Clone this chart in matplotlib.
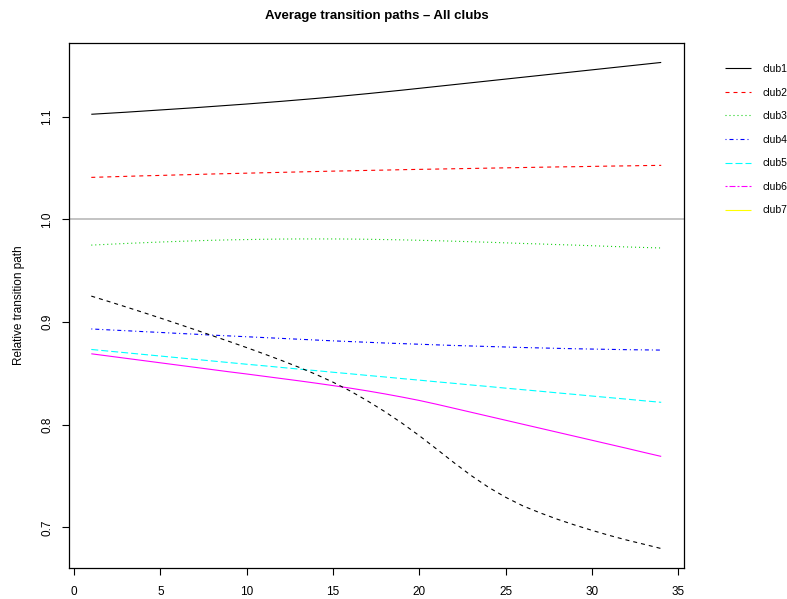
import matplotlib
matplotlib.use("Agg")
import matplotlib.pyplot as plt
from matplotlib.lines import Line2D

plt.rcParams['font.family'] = ['Liberation Sans', 'DejaVu Sans']
plt.rcParams['lines.scale_dashes'] = False

x = list(range(1, 35))

club1 = [1.1025, 1.1035, 1.1045, 1.1056, 1.1067, 1.1078, 1.1089, 1.1101, 1.1113, 1.1125,
         1.1138, 1.1151, 1.1165, 1.1179, 1.1194, 1.1210, 1.1226, 1.1243, 1.1260, 1.1278,
         1.1296, 1.1314, 1.1332, 1.1350, 1.1368, 1.1386, 1.1404, 1.1422, 1.1440, 1.1458,
         1.1476, 1.1494, 1.1512, 1.1530]
club2 = [1.0410, 1.0415, 1.0420, 1.0425, 1.0429, 1.0434, 1.0438, 1.0443, 1.0447, 1.0451,
         1.0455, 1.0459, 1.0463, 1.0467, 1.0471, 1.0474, 1.0478, 1.0481, 1.0485, 1.0488,
         1.0491, 1.0494, 1.0497, 1.0500, 1.0503, 1.0506, 1.0509, 1.0512, 1.0514, 1.0517,
         1.0520, 1.0522, 1.0525, 1.0527]
club3 = [0.9750, 0.9758, 0.9766, 0.9773, 0.9780, 0.9786, 0.9792, 0.9797, 0.9801, 0.9804,
         0.9807, 0.9809, 0.9810, 0.9810, 0.9810, 0.9809, 0.9807, 0.9804, 0.9801, 0.9797,
         0.9793, 0.9788, 0.9783, 0.9778, 0.9772, 0.9766, 0.9761, 0.9755, 0.9750, 0.9744,
         0.9738, 0.9732, 0.9727, 0.9722]
club4 = [0.8933, 0.8924, 0.8916, 0.8907, 0.8899, 0.8890, 0.8882, 0.8873, 0.8865, 0.8857,
         0.8849, 0.8841, 0.8833, 0.8825, 0.8817, 0.8810, 0.8803, 0.8796, 0.8790, 0.8784,
         0.8778, 0.8772, 0.8767, 0.8762, 0.8757, 0.8752, 0.8748, 0.8744, 0.8740, 0.8737,
         0.8734, 0.8731, 0.8729, 0.8727]
club5 = [0.8733, 0.8717, 0.8701, 0.8685, 0.8669, 0.8653, 0.8637, 0.8621, 0.8605, 0.8589,
         0.8574, 0.8558, 0.8542, 0.8527, 0.8511, 0.8496, 0.8480, 0.8465, 0.8449, 0.8434,
         0.8418, 0.8403, 0.8387, 0.8372, 0.8356, 0.8341, 0.8326, 0.8310, 0.8295, 0.8279,
         0.8264, 0.8249, 0.8233, 0.8218]
club6 = [0.8691, 0.8669, 0.8647, 0.8625, 0.8603, 0.8581, 0.8559, 0.8537, 0.8515, 0.8494,
         0.8472, 0.8450, 0.8428, 0.8405, 0.8381, 0.8356, 0.8329, 0.8300, 0.8269, 0.8236,
         0.8199, 0.8160, 0.8121, 0.8082, 0.8043, 0.8004, 0.7965, 0.7926, 0.7887, 0.7848,
         0.7809, 0.7770, 0.7730, 0.7691]
club7 = [0.9253, 0.9201, 0.9148, 0.9094, 0.9039, 0.8983, 0.8926, 0.8868, 0.8810, 0.8751,
         0.8690, 0.8627, 0.8561, 0.8491, 0.8414, 0.8328, 0.8231, 0.8127, 0.8014, 0.7892,
         0.7762, 0.7630, 0.7504, 0.7390, 0.7292, 0.7208, 0.7140, 0.7078, 0.7022, 0.6970,
         0.6921, 0.6876, 0.6835, 0.6793]

labels = ["club1", "club2", "club3", "club4", "club5", "club6", "club7"]
series = [club1, club2, club3, club4, club5, club6, club7]

px = 72.0 / 100.0  # one pixel in points
# R line types expressed in pixels
LTY = {
    1: (0, ()),
    2: (0, (4 * px, 4 * px)),
    3: (0, (1 * px, 3 * px)),
    4: (0, (1 * px, 3 * px, 4 * px, 3 * px)),
    5: (0, (7 * px, 3 * px)),
    6: (0, (2 * px, 2 * px, 6 * px, 2 * px)),
}
COL = {1: "black", 2: "#FF0000", 3: "#00CD00", 4: "#0000FF", 5: "#00FFFF",
       6: "#FF00FF", 7: "#FFFF00"}

lw = 0.8
fig = plt.figure(figsize=(7.87, 5.99), dpi=100)
ax = fig.add_axes([68.5 / 787, (599 - 568) / 599, (684 - 68.5) / 787, (568 - 43) / 599])

# matplot defaults: col = 1:6, lty = 1:5 recycled
for i, s in enumerate(series):
    col = COL[(i % 6) + 1]
    lty = LTY[(i % 5) + 1]
    ax.plot(x, s, color=col, linestyle=lty, linewidth=lw)

ax.axhline(1.0, color="#BEBEBE", linewidth=1.3)

allv = [v for s in series for v in s]
lo, hi = min(allv), max(allv)
r = hi - lo
ax.set_ylim(lo - 0.04 * r, hi + 0.04 * r)
ax.set_xlim(1 - 0.04 * 33, 34 + 0.04 * 33)

ax.set_xticks([0, 5, 10, 15, 20, 25, 30, 35])
ax.set_yticks([0.7, 0.8, 0.9, 1.0, 1.1])
ax.set_yticklabels(["0.7", "0.8", "0.9", "1.0", "1.1"], rotation=90, va="center")
ax.tick_params(direction="out", length=5, width=0.8, labelsize=8.5, pad=6)
ax.tick_params(axis="x", pad=8)
for sp in ax.spines.values():
    sp.set_linewidth(0.9)

ax.set_ylabel("Relative transition path", fontsize=8.5, labelpad=12)
fig.text(377 / 787, 1 - 16 / 599, "Average transition paths \u2013 All clubs",
         ha="center", va="center", fontsize=9.5, fontweight="bold")

# legend as in the reference (col = 1:7, lty = 1:7 -> 7 recycled to 1)
handles = []
for i, lab in enumerate(labels):
    lty = LTY[(i % 6) + 1]
    handles.append(Line2D([0], [0], color=COL[i + 1], linestyle=lty, linewidth=lw))
fig.legend(handles, labels, loc="upper left", bbox_to_anchor=(725 / 787, 1 - 64 / 599),
           frameon=False, fontsize=7.5, handlelength=2.5, handletextpad=1.1,
           labelspacing=1.3, borderaxespad=0, borderpad=0)

fig.savefig("out.png", dpi=100)
